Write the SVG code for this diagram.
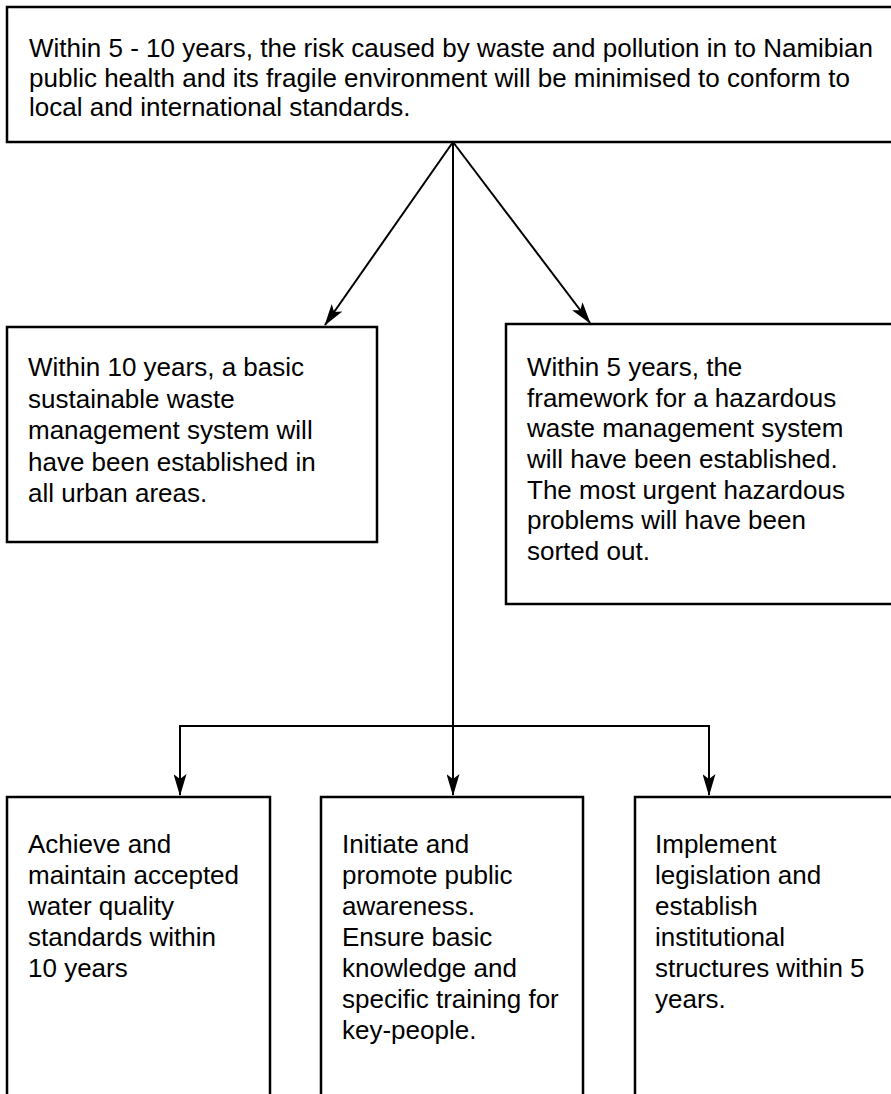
<svg xmlns="http://www.w3.org/2000/svg" width="891" height="1094" viewBox="0 0 891 1094">
<style>
.box{fill:#fff;stroke:#000;stroke-width:2.5}
.t{font-family:"Liberation Sans",Arial,sans-serif;font-size:26px;fill:#000}
.c{stroke:#000;stroke-width:2;fill:none}
</style>
<defs>
<marker id="ah" viewBox="0 0 22 13" refX="21" refY="6.5" markerWidth="22" markerHeight="13" markerUnits="userSpaceOnUse" orient="auto">
<path d="M0,0 L22,6.5 L0,13 L5,6.5 z" fill="#000"/>
</marker>
</defs>
<rect width="891" height="1094" fill="#fff"/>
<g id="connectors">
<line class="c" x1="453" y1="142" x2="325" y2="325" marker-end="url(#ah)"/>
<line class="c" x1="453" y1="142" x2="590" y2="323" marker-end="url(#ah)"/>
<line class="c" x1="453" y1="142" x2="453" y2="795" marker-end="url(#ah)"/>
<line class="c" x1="179" y1="726" x2="710" y2="726"/>
<line class="c" x1="180" y1="726" x2="180" y2="795" marker-end="url(#ah)"/>
<line class="c" x1="709" y1="726" x2="709" y2="795" marker-end="url(#ah)"/>
</g>
<g id="goal">
<rect class="box" x="7" y="7" width="900" height="135"/>
<text class="t"><tspan x="29" y="57">Within 5 - 10 years, the risk caused by waste and pollution in to Namibian</tspan><tspan x="29" y="86.5">public health and its fragile environment will be minimised to conform to</tspan><tspan x="29" y="116">local and international standards.</tspan></text>
</g>
<g id="waste">
<rect class="box" x="7" y="327" width="370" height="215"/>
<text class="t"><tspan x="28" y="376">Within 10 years, a basic</tspan><tspan x="28" y="407.5">sustainable waste</tspan><tspan x="28" y="439">management system will</tspan><tspan x="28" y="470.5">have been established in</tspan><tspan x="28" y="502">all urban areas.</tspan></text>
</g>
<g id="hazardous">
<rect class="box" x="506" y="324" width="400" height="280"/>
<text class="t"><tspan x="527" y="376">Within 5 years, the</tspan><tspan x="527" y="406.7">framework for a hazardous</tspan><tspan x="527" y="437.4">waste management system</tspan><tspan x="527" y="468">will have been established.</tspan><tspan x="527" y="498.7">The most urgent hazardous</tspan><tspan x="527" y="529.4">problems will have been</tspan><tspan x="527" y="560">sorted out.</tspan></text>
</g>
<g id="water">
<rect class="box" x="7" y="797" width="263" height="310"/>
<text class="t"><tspan x="28" y="853">Achieve and</tspan><tspan x="28" y="884">maintain accepted</tspan><tspan x="28" y="915">water quality</tspan><tspan x="28" y="946">standards within</tspan><tspan x="28" y="977">10 years</tspan></text>
</g>
<g id="awareness">
<rect class="box" x="321" y="797" width="262" height="310"/>
<text class="t"><tspan x="342" y="853">Initiate and</tspan><tspan x="342" y="884">promote public</tspan><tspan x="342" y="915">awareness.</tspan><tspan x="342" y="946">Ensure basic</tspan><tspan x="342" y="977">knowledge and</tspan><tspan x="342" y="1008">specific training for</tspan><tspan x="342" y="1039">key-people.</tspan></text>
</g>
<g id="legislation">
<rect class="box" x="635" y="797" width="300" height="310"/>
<text class="t"><tspan x="655" y="853">Implement</tspan><tspan x="655" y="884">legislation and</tspan><tspan x="655" y="915">establish</tspan><tspan x="655" y="946">institutional</tspan><tspan x="655" y="977">structures within 5</tspan><tspan x="655" y="1008">years.</tspan></text>
</g>
</svg>
